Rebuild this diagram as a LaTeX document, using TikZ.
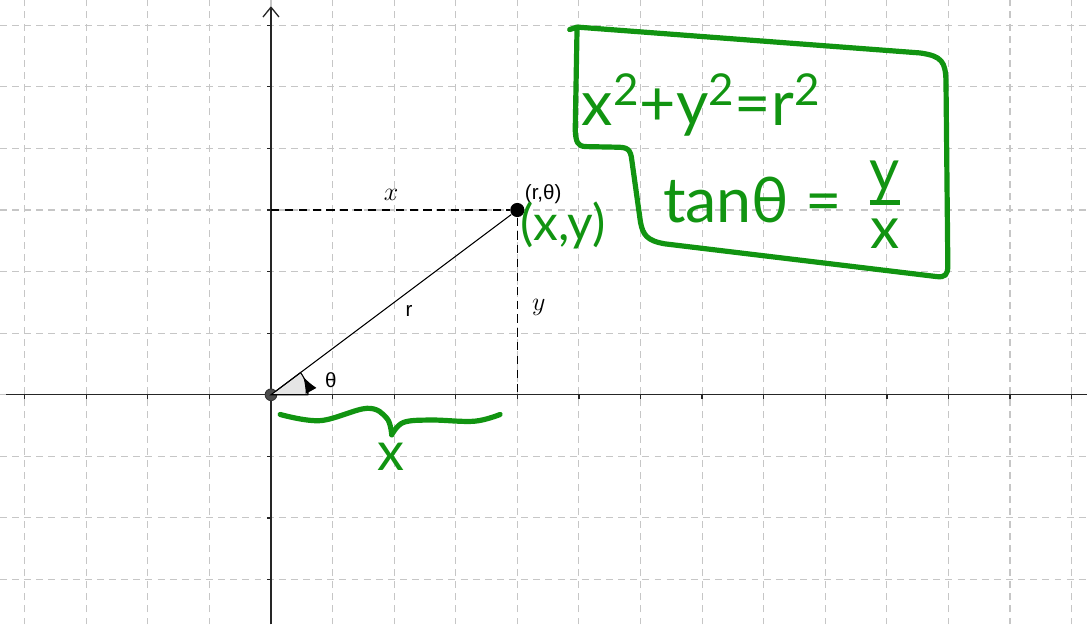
\documentclass[tikz,border=0pt]{standalone}
\usepackage{fontspec}
\setmainfont{Liberation Serif}
\setsansfont{Liberation Sans}
\newfontfamily\handfont{Lato}
\usetikzlibrary{arrows.meta}
\definecolor{penGreen}{RGB}{17,148,17}
\tikzset{
  gridline/.style={draw=gray!45, line width=0.5pt, dash pattern=on 3.2pt off 2.4pt},
  axisline/.style={draw=black!85, line width=0.6pt},
  guide/.style={draw=black, line width=0.65pt, dash pattern=on 3.8pt off 2.6pt},
  pen/.style={draw=penGreen, line width=2.4pt, line cap=round, line join=round},
  hand/.style={text=penGreen, font=\handfont, inner sep=0pt},
  lbl/.style={font=\sffamily\fontsize{9.5}{11}\selectfont, inner sep=1pt}
}
\begin{document}
\begin{tikzpicture}[>=latex]

        % Margini dell'immagine
        \useasboundingbox (-4.40,-3.73) rectangle (13.25,6.41);

        % Griglia tratteggiata
        \foreach \i in {-4,...,13}
            \draw[gridline] (\i,-3.73) -- (\i,6.41);
        \foreach \j in {-3,...,6}
            \draw[gridline] (-4.40,\j) -- (13.25,\j);

        % Assi e tacche
        \draw[axisline] (-4.30,0) -- (13.25,0);
        \draw[axisline, -{Straight Barb[length=1.6mm, width=2.6mm]}] (0,-3.73) -- (0,6.31);
        \foreach \i in {-4,...,13}
            \draw[axisline] (\i,0) -- (\i,-0.07);
        \foreach \j in {-3,...,6}
            \draw[axisline] (0,\j) -- (-0.07,\j);

        % Origine e punto
        \coordinate (O) at (0,0);
        \coordinate (Py) at (0,3);
        \coordinate (Px) at (4,0);
        \node[circle, fill=black!70, draw=black!80, inner sep=0pt, minimum size=1.9mm] (o) at (O) {};
        \node[circle, fill=black, inner sep=0pt, minimum size=2.3mm] (P) at (4,3) {};

        % Angolo theta
        \draw[fill=gray!20, draw=black, line width=0.5pt] (O) -- (0.6,0) arc[start angle=0, end angle=36.87, radius=0.6] -- cycle;
        \draw[line width=0.5pt, -{Latex[length=2.6mm, width=2mm]}] (0.6,0) arc[start angle=0, end angle=29, radius=0.6];

        % Raggio e proiezioni
        \draw[line width=0.5pt] (o) -- (P);
        \draw[guide] (Py) -- (P);
        \draw[guide] (P) -- (Px);

        % Etichette
        \node[lbl] (rt) at (4.42,3.25) {(r,θ)};
        \node[lbl] (rlab) at (2.24,1.36) {r};
        \node[lbl] (th) at (0.97,0.24) {θ};
        \node[font=\fontsize{12.5}{13}\selectfont] (xlab) at (1.95,3.25) {$x$};
        \node[font=\fontsize{12.5}{13}\selectfont] (ylab) at (4.35,1.41) {$y$};

        % Appunti a mano (verde)
        \node[hand, anchor=base west, font=\handfont\fontsize{23}{25}\selectfont] (xy) at (4.04,2.50) {(x,y)};

        \draw[pen] (4.85,5.93) -- (4.97,5.97) -- (10.54,5.55)
            .. controls (10.90,5.50) and (10.95,5.40) .. (10.96,5.10)
            -- (10.99,2.10)
            .. controls (10.99,1.95) and (10.95,1.90) .. (10.80,1.92)
            -- (6.40,2.45)
            .. controls (6.10,2.50) and (6.04,2.60) .. (6.00,2.80)
            -- (5.86,3.80)
            .. controls (5.84,4.00) and (5.78,4.02) .. (5.60,4.02)
            -- (5.10,4.03)
            .. controls (4.98,4.04) and (4.95,4.10) .. (4.94,4.30)
            -- (4.97,5.97);

        \node[hand, anchor=base west, font=\handfont\fontsize{29}{31}\selectfont] (eq1) at (5.04,4.38) {x\textsuperscript{2}+y\textsuperscript{2}=r\textsuperscript{2}};
        \node[hand, anchor=base west, font=\handfont\fontsize{29}{31}\selectfont] (eq2) at (6.36,2.79) {tanθ =};
        \node[hand, font=\handfont\fontsize{27}{29}\selectfont] (frac) at (9.97,3.05)
            {\setlength{\arrayrulewidth}{2.2pt}\begin{tabular}{@{}c@{}}y\\[-4pt]\hline x\end{tabular}};

        % Graffa sotto l'asse x
        \draw[pen] plot[smooth, tension=0.6] coordinates {(0.15,-0.32) (0.8,-0.42) (1.56,-0.22) (1.88,-0.38) (1.96,-0.65)};
        \draw[pen] plot[smooth, tension=0.6] coordinates {(1.96,-0.65) (2.15,-0.45) (2.6,-0.41) (3.3,-0.43) (3.72,-0.32)};
        \node[hand, font=\handfont\fontsize{25}{27}\selectfont] (bx) at (1.95,-1.0) {x};

    \end{tikzpicture}
\end{document}
